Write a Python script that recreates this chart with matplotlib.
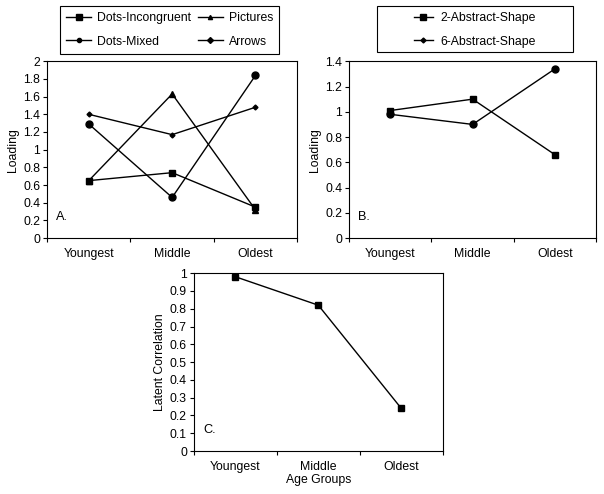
import matplotlib.pyplot as plt
from matplotlib.patches import Rectangle
import numpy as np

plt.rcParams["font.family"] = ["Liberation Sans", "DejaVu Sans"]
plt.rcParams["font.size"] = 8.8

groups = ["Youngest", "Middle", "Oldest"]

# Panel A loadings
dots_incongruent = [0.65, 0.74, 0.35]
pictures = [0.65, 1.63, 0.32]
dots_mixed = [1.29, 0.46, 1.84]
arrows = [1.40, 1.17, 1.48]

# Panel B loadings
abstract2 = [1.01, 1.10, 0.66]
abstract6 = [0.98, 0.90, 1.34]

# Panel C latent correlations
latent_corr = [0.98, 0.82, 0.24]

fig = plt.figure(figsize=(6.04, 4.94), dpi=100)
axA = fig.add_axes([0.078, 0.518, 0.414, 0.358])
axB = fig.add_axes([0.578, 0.518, 0.409, 0.358])
axC = fig.add_axes([0.321, 0.087, 0.412, 0.360])

x = np.arange(len(groups)) + 0.5


def style(ax, ymax, step, letter):
    ax.set_xlim(0, 3)
    ax.set_ylim(0, ymax)
    ax.set_xticks([0, 1, 2, 3])
    ax.set_xticklabels([])
    ax.set_xticks(x, minor=True)
    ax.set_xticklabels(groups, minor=True)
    ax.tick_params(axis="x", which="minor", length=0, pad=7)
    ax.tick_params(axis="x", which="major", length=3, direction="out")
    yt = np.round(np.arange(0, ymax + step / 2, step), 2)
    ax.set_yticks(yt)
    ax.set_yticklabels(["%g" % v for v in yt])
    ax.tick_params(axis="y", length=3, direction="out", pad=2)
    for s in ax.spines.values():
        s.set_linewidth(0.8)
    ax.text(0.037, 0.12, letter, transform=ax.transAxes, ha="left", va="center", fontsize=9.2)


kw = dict(color="black", lw=1)
axA.plot(x, dots_incongruent, marker="s", ms=5, label="Dots-Incongruent", **kw)
axA.plot(x, dots_mixed, marker="o", ms=5, label="Dots-Mixed", **kw)
axA.plot(x, pictures, marker="^", ms=4, label="Pictures", **kw)
axA.plot(x, arrows, marker="D", ms=2.5, label="Arrows", **kw)
style(axA, 2, 0.2, "A.")
axA.set_ylabel("Loading", labelpad=3)
legA = axA.legend(ncol=2, loc="upper center", bbox_to_anchor=(0.281, 0.988),
                  bbox_transform=fig.transFigure, fancybox=False, edgecolor="black",
                  framealpha=1, handlelength=2.0, handletextpad=0.5,
                  labelspacing=0.95, columnspacing=0.6, borderpad=0.5,
                  borderaxespad=0)
legA.get_frame().set_linewidth(0.8)
for h in legA.legend_handles[1:]:
    h.set_markersize(3)

axB.plot(x, abstract2, marker="s", ms=5, label="2-Abstract-Shape", **kw)
axB.plot(x, abstract6, marker="o", ms=5, label="6-Abstract-Shape", **kw)
style(axB, 1.4, 0.2, "B.")
axB.set_ylabel("Loading", labelpad=3)
legB = axB.legend(loc="upper center", bbox_to_anchor=(0.786, 0.988),
                  bbox_transform=fig.transFigure, frameon=False,
                  handlelength=1.6, handletextpad=0.6, labelspacing=0.95,
                  borderpad=0.5, borderaxespad=0)
legB.legend_handles[1].set_marker("D")
legB.legend_handles[1].set_markersize(2.5)
# wide frame around panel B legend
fig.patches.append(Rectangle((377 / 604, 1 - 52 / 494), 196 / 604, 46 / 494,
                             transform=fig.transFigure, fill=False,
                             edgecolor="black", lw=0.8))

axC.plot(x, latent_corr, marker="s", ms=5, **kw)
style(axC, 1, 0.1, "C.")
axC.set_ylabel("Latent Correlation", labelpad=3)
axC.set_xlabel("Age Groups", labelpad=1)

fig.savefig("out.png", dpi=100)
